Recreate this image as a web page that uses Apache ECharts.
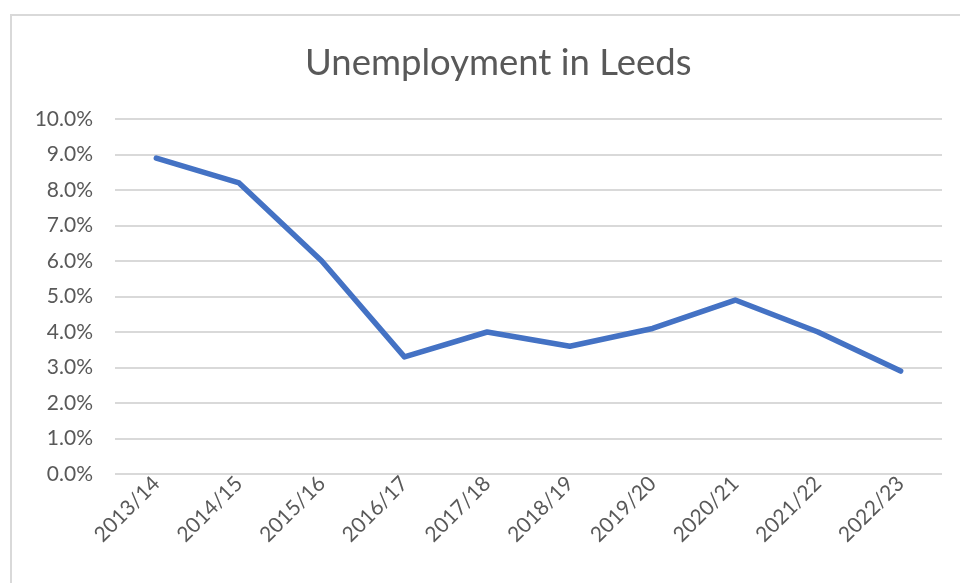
<!DOCTYPE html>
<html>
<head>
<meta charset="utf-8">
<script src="https://cdn.jsdelivr.net/npm/echarts@6/dist/echarts.min.js"></script>
<style>
  html, body { margin: 0; padding: 0; background: #fff; }
  #chart { width: 960px; height: 583px; }
</style>
</head>
<body>
<div id="chart"></div>
<script>
// 数据
const years = ['2013/14', '2014/15', '2015/16', '2016/17', '2017/18', '2018/19', '2019/20', '2020/21', '2021/22', '2022/23']
const rates = [8.9, 8.2, 6.0, 3.3, 4.0, 3.6, 4.1, 4.9, 4.0, 2.9]

const myChart = echarts.init(document.querySelector('#chart'))

const option = {
  animation: false,
  // 外框
  graphic: [{
    type: 'rect',
    shape: { x: 11, y: 15, width: 960, height: 600 },
    style: { fill: 'none', stroke: '#d9d9d9', lineWidth: 2 }
  }],
  title: {
    text: 'Unemployment in Leeds',
    left: 300,
    top: 40,
    textStyle: {
      fontFamily: 'Lato',
      fontSize: 36.5,
      fontWeight: 'normal',
      color: '#595959'
    }
  },
  grid: {
    left: 115,
    right: 18,
    top: 119,
    bottom: 109
  },
  xAxis: {
    type: 'category',
    data: years,
    boundaryGap: true,
    axisLine: { show: false },
    axisTick: { show: false },
    axisLabel: {
      rotate: 45,
      margin: 6,
      fontFamily: 'Lato',
      fontSize: 21,
      color: '#595959'
    }
  },
  yAxis: {
    type: 'value',
    min: 0,
    max: 10,
    interval: 1,
    axisLine: { show: false },
    axisTick: { show: false },
    axisLabel: {
      margin: 22,
      fontFamily: 'Lato',
      fontSize: 21,
      color: '#595959',
      formatter: v => v.toFixed(1) + '%'
    },
    splitLine: {
      lineStyle: { color: '#d9d9d9', width: 2 }
    }
  },
  series: [
    {
      name: 'Unemployment',
      type: 'line',
      data: rates,
      symbol: 'none',
      lineStyle: {
        width: 5.5,
        color: '#4472C4',
        cap: 'round',
        join: 'round'
      }
    }
  ]
}

myChart.setOption(option)
</script>
</body>
</html>
